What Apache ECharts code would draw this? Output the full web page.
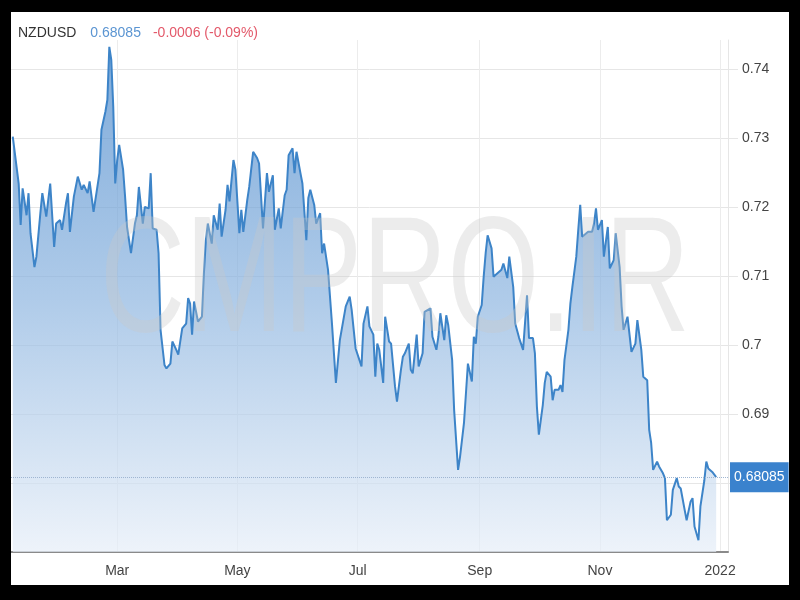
<!DOCTYPE html>
<html>
<head>
<meta charset="utf-8">
<script src="https://cdn.jsdelivr.net/npm/echarts@6/dist/echarts.min.js"></script>
<style>
  html, body { margin: 0; padding: 0; background: #000; width: 800px; height: 600px; overflow: hidden; }
  #chart { position: absolute; left: 11px; top: 12px; width: 778px; height: 573px; background: #fff; }
</style>
</head>
<body>
<div id="chart"></div>
<script>
// Days since 2021-01-01 for each close
const days = [6,9,10,11,13,14,15,17,18,20,21,23,25,27,28,30,31,33,34,35,37,39,41,42,44,45,47,48,50,51,53,54,55,56,57,58,59,60,62,63,64,66,68,69,70,72,73,75,76,77,79,80,81,83,84,86,87,89,90,92,94,95,96,97,98,100,102,103,104,105,107,108,110,111,112,114,115,116,118,119,121,122,123,125,126,128,130,131,133,135,136,138,139,141,142,144,145,146,148,149,150,152,153,155,156,157,159,160,162,163,164,166,168,170,172,175,177,178,180,181,183,184,186,187,189,190,191,192,194,195,197,198,200,201,203,204,205,207,208,209,211,212,214,215,216,218,219,221,222,223,225,226,227,229,230,232,233,235,236,237,239,240,241,242,244,245,246,247,249,250,252,254,255,257,258,260,261,263,265,267,268,270,271,272,273,275,276,277,279,280,281,283,284,285,286,288,289,290,292,293,294,295,296,298,300,301,302,303,305,306,308,309,311,312,314,315,316,318,319,320,322,323,325,326,328,329,330,331,333,334,336,337,338,340,341,343,344,345,347,348,350,351,352,354,355,357,358,359,361,363];
// NZDUSD closes
const values = [0.7302,0.7234,0.7174,0.7227,0.7188,0.7220,0.7162,0.7113,0.7128,0.7191,0.7220,0.7186,0.7234,0.7142,0.7176,0.7181,0.7167,0.7205,0.7220,0.7164,0.7215,0.7244,0.7225,0.7232,0.7220,0.7237,0.7193,0.7191,0.7249,0.7312,0.7338,0.7355,0.7432,0.7413,0.7345,0.7234,0.7268,0.7290,0.7254,0.7215,0.7171,0.7133,0.7176,0.7188,0.7229,0.7176,0.7200,0.7198,0.7249,0.7169,0.7167,0.7133,0.7022,0.6971,0.6966,0.6973,0.7005,0.6993,0.6986,0.7024,0.7031,0.7068,0.7060,0.7015,0.7063,0.7034,0.7041,0.7104,0.7152,0.7176,0.7147,0.7188,0.7167,0.7205,0.7157,0.7196,0.7232,0.7208,0.7268,0.7254,0.7162,0.7196,0.7164,0.7210,0.7229,0.7280,0.7271,0.7263,0.7169,0.7249,0.7222,0.7246,0.7167,0.7198,0.7169,0.7217,0.7225,0.7275,0.7285,0.7249,0.7280,0.7249,0.7234,0.7152,0.7213,0.7225,0.7203,0.7176,0.7191,0.7133,0.7147,0.7109,0.7031,0.6945,0.7007,0.7056,0.7070,0.7051,0.6995,0.6993,0.6969,0.7031,0.7056,0.7027,0.7015,0.6954,0.7002,0.6993,0.6945,0.7041,0.7005,0.7002,0.6940,0.6918,0.6964,0.6983,0.6988,0.7002,0.6964,0.6959,0.7015,0.6969,0.6988,0.7048,0.7046,0.7053,0.7012,0.6993,0.7012,0.7046,0.7007,0.7043,0.7029,0.6978,0.6906,0.6819,0.6838,0.6887,0.6930,0.6973,0.6947,0.7012,0.7002,0.7041,0.7058,0.7099,0.7133,0.7159,0.7140,0.7099,0.7104,0.7109,0.7118,0.7097,0.7128,0.7084,0.7031,0.7010,0.6993,0.7072,0.7010,0.7010,0.6988,0.6911,0.6870,0.6913,0.6945,0.6961,0.6954,0.6920,0.6935,0.6935,0.6942,0.6932,0.6978,0.7022,0.7060,0.7084,0.7128,0.7167,0.7203,0.7157,0.7155,0.7164,0.7164,0.7176,0.7198,0.7167,0.7181,0.7128,0.7171,0.7111,0.7123,0.7162,0.7113,0.7056,0.7022,0.7041,0.7043,0.6990,0.7002,0.7036,0.6993,0.6954,0.6949,0.6877,0.6858,0.6819,0.6831,0.6824,0.6814,0.6807,0.6746,0.6754,0.6790,0.6807,0.6795,0.6792,0.6761,0.6746,0.6773,0.6778,0.6737,0.6717,0.6766,0.6804,0.6831,0.6821,0.6816,0.68085];
const symbolName = 'NZDUSD';
const lastValue = 0.68085;
const changeText = '-0.0006 (-0.09%)';
// x ticks: month starts (days since 2021-01-01) and their labels
const xTickDays = [59, 120, 181, 243, 304, 365];
const xTickLabels = ['Mar', 'May', 'Jul', 'Sep', 'Nov', '2022'];
const yMin = 0.67, yMax = 0.7442, yStep = 0.01;

const seriesData = days.map((d, i) => [d, values[i]]);

const chart = echarts.init(document.getElementById('chart'));
const font = "'Liberation Sans', Arial, sans-serif";
chart.setOption({
  animation: false,
  backgroundColor: '#fff',
  title: {
    left: 7, top: 13, padding: 0,
    text: '{a|' + symbolName + '}{b|' + lastValue.toFixed(5) + '}{c|' + changeText + '}',
    textStyle: {
      fontFamily: font, fontSize: 14, lineHeight: 16, fontWeight: 'normal',
      rich: {
        a: { color: '#333', fontSize: 14, fontFamily: font, fontWeight: 'normal' },
        b: { color: '#5b95d2', fontSize: 14, fontFamily: font, fontWeight: 'normal', padding: [0, 0, 0, 14] },
        c: { color: '#e3596a', fontSize: 14, fontFamily: font, fontWeight: 'normal', padding: [0, 0, 0, 12] }
      }
    }
  },
  grid: { left: 0, right: 61, top: 28, bottom: 33, containLabel: false },
  xAxis: {
    type: 'value',
    min: 5.1,
    max: 369.0,
    axisLine: { show: true, onZero: false, lineStyle: { color: '#8a8a8a', width: 2 } },
    axisTick: { show: false, customValues: xTickDays },
    splitLine: { show: true, lineStyle: { color: '#ececec', width: 1 } },
    axisLabel: {
      customValues: xTickDays,
      color: '#444', fontSize: 14, fontFamily: font, margin: 12,
      formatter: function (v) {
        const i = xTickDays.indexOf(Math.round(v));
        return i >= 0 ? xTickLabels[i] : '';
      }
    }
  },
  yAxis: {
    type: 'value',
    position: 'right',
    min: yMin, max: yMax, interval: yStep,
    axisLine: { show: true, lineStyle: { color: '#e6e6e6', width: 1 } },
    axisTick: { show: true, length: 10, lineStyle: { color: '#e6e6e6' } },
    splitLine: { show: true, showMaxLine: false, lineStyle: { color: '#e6e6e6', width: 1 } },
    axisLabel: {
      color: '#444', fontSize: 14, fontFamily: font, margin: 14,
      showMaxLabel: false, showMinLabel: false,
      formatter: function (v) { return String(+v.toFixed(2)); }
    }
  },
  series: [{
    type: 'line',
    data: seriesData,
    symbol: 'none',
    smooth: false,
    lineStyle: { color: '#3d84c8', width: 2 },
    areaStyle: {
      color: new echarts.graphic.LinearGradient(0, 0, 0, 1, [
        { offset: 0, color: '#4887ca' },
        { offset: 0.5, color: '#8db5e0' },
        { offset: 1, color: '#e6eef8' }
      ])
    },
    markLine: {
      silent: true,
      symbol: 'none',
      precision: 5,
      data: [{ yAxis: lastValue }],
      lineStyle: { type: 'dotted', color: '#9fb6d2', width: 1 },
      label: {
        position: 'end', distance: 2,
        formatter: lastValue.toFixed(5),
        color: '#fff', fontSize: 14, fontFamily: font,
        backgroundColor: '#3a82cd', padding: [8, 4, 8, 4]
      }
    }
  }],
  graphic: [{
    type: 'text',
    x: 384, y: 273,
    scaleX: 0.715,
    z: 100,
    silent: true,
    style: {
      text: 'CMPRO.IR',
      font: "165px 'Liberation Sans', Arial, sans-serif",
      fill: 'rgba(200,200,200,0.35)',
      align: 'center',
      verticalAlign: 'middle'
    }
  }]
});
</script>
</body>
</html>
